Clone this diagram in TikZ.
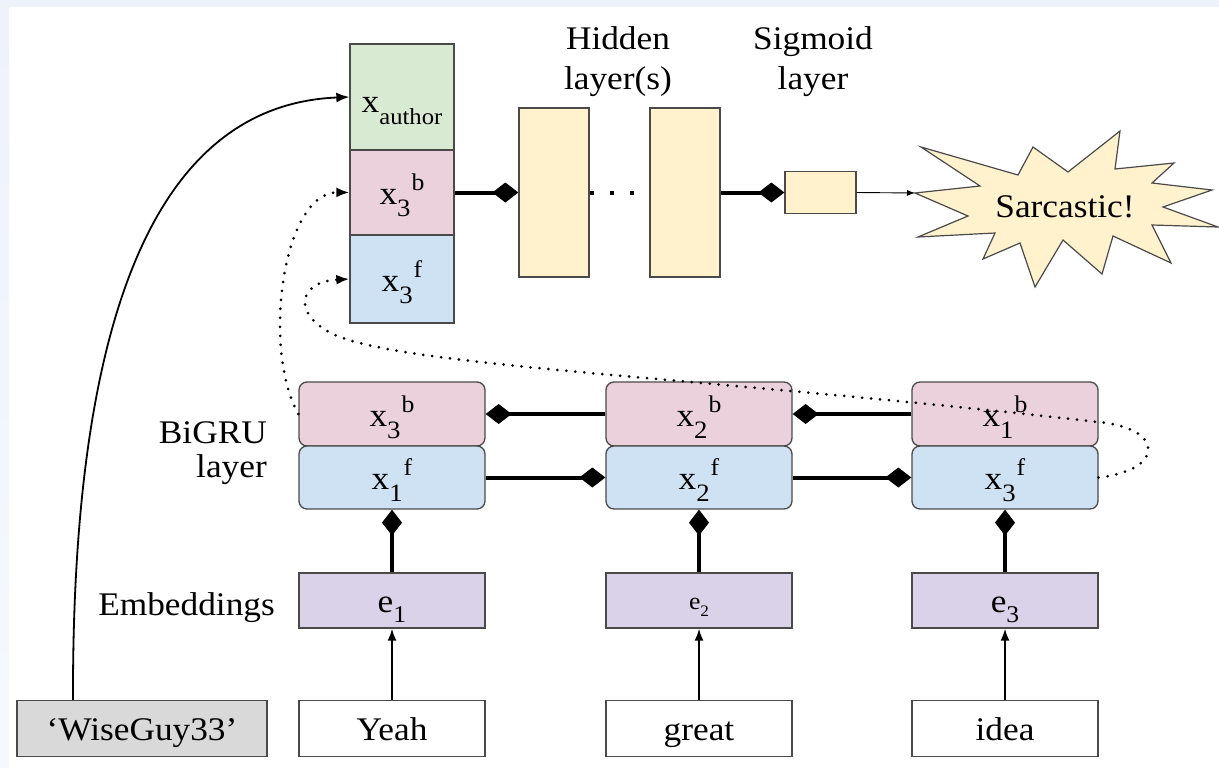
\documentclass[tikz,border=0pt]{standalone}
\usepackage{fontspec}
\setmainfont{Liberation Serif}[FakeStretch=1.07]
\usetikzlibrary{arrows.meta}
\definecolor{cgreen}{HTML}{D9EAD3}
\definecolor{cpink}{HTML}{EAD1DC}
\definecolor{cblue}{HTML}{CFE2F3}
\definecolor{cyellow}{HTML}{FFF2CC}
\definecolor{cpurple}{HTML}{D9D2E9}
\definecolor{cgrey}{HTML}{D9D9D9}
\definecolor{cborder}{HTML}{4A4A4A}
\definecolor{cframe}{HTML}{EEF2FB}
\newcommand{\xss}[2]{x\raisebox{-12pt}{\fontsize{25}{25}\selectfont #1}\hspace{1pt}\raisebox{14pt}{\fontsize{24}{24}\selectfont #2}}
\newcommand{\esub}[1]{e\raisebox{-10pt}{\fontsize{24}{24}\selectfont #1}}
\tikzset{
  every node/.style={font=\fontsize{33}{40}\selectfont},
  box/.style={draw=cborder, line width=1.3pt, inner sep=0pt, text height=24pt, text depth=0pt},
  topbox/.style={box, minimum width=104pt},
  hidbox/.style={box, fill=cyellow, minimum width=70pt, minimum height=169pt},
  grubox/.style={box, rounded corners=8pt, minimum width=186pt},
  colbox/.style={box, minimum width=186pt, minimum height=55pt},
  lbl/.style={inner sep=0pt},
  thickd/.style={line width=4pt, -{Diamond[length=26pt,width=20pt]}},
  thinarrow/.style={line width=1.8pt, -{Latex[length=12pt,width=9pt]}},
  dotarrow/.style={line width=3pt, line cap=round, dash pattern=on 0pt off 9pt, -{Latex[length=13pt,width=10pt]}},
}
\begin{document}
\begin{tikzpicture}[x=1pt,y=-1pt]
\useasboundingbox (0,0) rectangle (1219,768);
\fill[white] (0,0) rectangle (1219,768);
\fill[cframe] (0,0) rectangle (1219,7);
\shade[top color=cframe, bottom color=cframe!50!white] (0,7) rectangle (9,768);

% top stack
\node[topbox, fill=cgreen, minimum height=106pt, text height=30pt] (tauth) at (402,97) {x\raisebox{-13pt}{\fontsize{23}{23}\selectfont author}};
\node[topbox, fill=cpink, minimum height=85pt] (tpink) at (402,192.5) {\xss{3}{b}};
\node[topbox, fill=cblue, minimum height=88pt] (tblue) at (402,279) {\xss{3}{f}};

% hidden and sigmoid
\node[hidbox] (h1) at (554,192.5) {};
\node[hidbox] (h2) at (685,192.5) {};
\node[box, fill=cyellow, minimum width=71pt, minimum height=42pt] (sig) at (820.5,192.5) {};
\node[lbl, anchor=base] (hidA) at (618,50) {Hidden};
\node[lbl, anchor=base] (hidB) at (618,90) {layer(s)};
\node[lbl, anchor=base] (sigA) at (813,50) {Sigmoid};
\node[lbl, anchor=base] (sigB) at (813,90) {layer};

% star
\draw[cborder, line width=1.2pt, fill=cyellow] (915,193) -- (980,186) -- (921,147) -- (1018,175) -- (1033,147) -- (1068,172) -- (1120,131) -- (1115,169) -- (1174,163) -- (1152,183) -- (1212,190) -- (1163,207) -- (1218,227) -- (1152,225) -- (1171,263) -- (1113,236) -- (1102,274) -- (1063,240) -- (1035,287) -- (1020,243) -- (983,259) -- (995,233) -- (918,237) -- (968,216) -- cycle;
\coordinate (startip) at (915,193);
\node[lbl, anchor=base] (sarc) at (1065,217) {Sarcastic!};

% BiGRU
\node[grubox, fill=cpink, minimum height=64pt] (lb) at (392,414) {\xss{3}{b}};
\node[grubox, fill=cblue, minimum height=63pt] (lf) at (392,477.5) {\xss{1}{f}};
\node[grubox, fill=cpink, minimum height=64pt] (mb) at (699,414) {\xss{2}{b}};
\node[grubox, fill=cblue, minimum height=63pt] (mf) at (699,477.5) {\xss{2}{f}};
\node[grubox, fill=cpink, minimum height=64pt] (rb) at (1005,414) {\xss{1}{b}};
\node[grubox, fill=cblue, minimum height=63pt] (rf) at (1005,477.5) {\xss{3}{f}};
\node[lbl, anchor=base east] (bgA) at (267,443) {BiGRU};
\node[lbl, anchor=base east] (bgB) at (267,477) {layer};

% embeddings
\node[colbox, fill=cpurple] (e1) at (392,600.5) {\esub{1}};
\node[colbox, fill=cpurple, text height=18pt] (e2) at (699,600.5) {\fontsize{24}{24}\selectfont e\raisebox{-7pt}{\fontsize{16}{16}\selectfont 2}};
\node[colbox, fill=cpurple] (e3) at (1005,600.5) {\esub{3}};
\node[lbl, anchor=base east] (emb) at (275,615) {Embeddings};

% words
\node[colbox, fill=white, minimum height=56pt] (w1) at (392,728.5) {Yeah};
\node[colbox, fill=white, minimum height=56pt] (w2) at (699,728.5) {great};
\node[colbox, fill=white, minimum height=56pt] (w3) at (1005,728.5) {idea};
\node[box, fill=cgrey, minimum width=250pt, minimum height=56pt] (wise) at (142,728.5) {‘WiseGuy33’};

% connectors
\draw[thinarrow] (w1.north) -- (e1.south);
\draw[thinarrow] (w2.north) -- (e2.south);
\draw[thinarrow] (w3.north) -- (e3.south);
\draw[thickd] (e1.north) -- (lf.south);
\draw[thickd] (e2.north) -- (mf.south);
\draw[thickd] (e3.north) -- (rf.south);
\draw[thickd] (lf.east) -- (mf.west);
\draw[thickd] (mf.east) -- (rf.west);
\draw[thickd] (mb.west) -- (lb.east);
\draw[thickd] (rb.west) -- (mb.east);
\draw[thickd] (tpink.east) -- (h1.west);
\draw[line width=4pt, dash pattern=on 4pt off 16pt] (h1.east) -- (h2.west);
\draw[thickd] (h2.east) -- (sig.west);
\draw[line width=0.9pt, -{Latex[length=8pt,width=6pt]}] (sig.east) -- (startip);

\draw[line width=1.8pt, -{Latex[length=13pt,width=10pt]}] ([xshift=-69pt]wise.north) .. controls (72,330) and (150,105) .. (tauth.west);
\draw[dotarrow] (lb.west) .. controls (262,350) and (282,192) .. (tpink.west);
\draw[dotarrow] (rf.east) .. controls (1165,470) and (1165,428) .. (1098,422) .. controls (700,377) and (420,367) .. (340,337) .. controls (292,318) and (295,282) .. (tblue.west);
\end{tikzpicture}
\end{document}
